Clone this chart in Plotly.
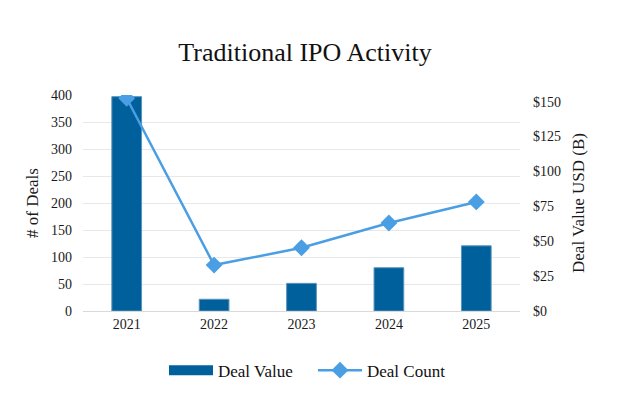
import plotly.graph_objects as go

years = ["2021", "2022", "2023", "2024", "2025"]
deal_value = [153.6, 8.4, 19.8, 31.0, 46.7]      # USD billions (right axis)
deal_count = [394, 85, 117, 163, 202]             # number of deals (left axis)

left_ticks = [0, 50, 100, 150, 200, 250, 300, 350, 400]
right_ticks = [0, 25, 50, 75, 100, 125, 150]
right_labels = ["$" + str(v) for v in right_ticks]

FONT = "Liberation Serif"
BAR_COLOR = "#00609C"
LINE_COLOR = "#4A9EE3"
TEXT = "#1a1a1a"

fig = go.Figure()
fig.add_trace(go.Bar(
    x=years, y=deal_value, name="Deal Value", yaxis="y2", showlegend=False,
    marker=dict(color=BAR_COLOR, line=dict(color="#5B93BD", width=1)),
))
# legend-only entry giving a wide rectangular swatch for the bars
fig.add_trace(go.Scatter(
    x=[None], y=[None], name="Deal Value", yaxis="y2", mode="lines",
    line=dict(color=BAR_COLOR, width=10),
))
fig.add_trace(go.Scatter(
    x=years, y=deal_count, name="Deal Count", yaxis="y",
    mode="lines+markers",
    line=dict(color=LINE_COLOR, width=2.5),
    marker=dict(symbol="diamond", size=13, color=LINE_COLOR),
))

fig.update_layout(
    width=627, height=399,
    paper_bgcolor="white", plot_bgcolor="white",
    margin=dict(l=83, r=107, t=95, b=87),
    font=dict(family=FONT, size=14, color=TEXT),
    title=dict(text="Traditional IPO Activity", x=305/627, xanchor="center",
               y=1 - 52/399, yanchor="middle",
               font=dict(family=FONT, size=26, color="#111111")),
    bargap=0.66,
    showlegend=True,
    legend=dict(orientation="h", x=(164 - 83) / 437, xanchor="left", y=-0.27, yanchor="middle",
                font=dict(family=FONT, size=17, color="#111111"),
                traceorder="normal", itemwidth=44, entrywidth=90),
    xaxis=dict(type="category", showgrid=False, showline=True, linecolor="#D9D9D9",
               linewidth=1, ticks="", tickfont=dict(size=14, color=TEXT)),
    yaxis=dict(range=[0, 400], tickvals=left_ticks, showgrid=True, gridcolor="#E8E8E8",
               gridwidth=1, zeroline=False, showline=False, ticks="",
               overlaying="y2", side="left",
               ticklabelstandoff=10,
               title=dict(text="# of Deals", font=dict(size=17, color=TEXT), standoff=8),
               tickfont=dict(size=14, color=TEXT)),
    yaxis2=dict(range=[0, 154.8], tickvals=right_ticks, ticktext=right_labels,
                side="right", showgrid=False, zeroline=False, anchor="x",
                showline=False, ticks="", ticklabelstandoff=12,
                title=dict(text="Deal Value USD (B)", font=dict(size=17, color=TEXT), standoff=12),
                tickfont=dict(size=14, color=TEXT)),
)

fig.write_html("out.html", config={"displayModeBar": False},
               post_script="document.body.style.margin='0';")
